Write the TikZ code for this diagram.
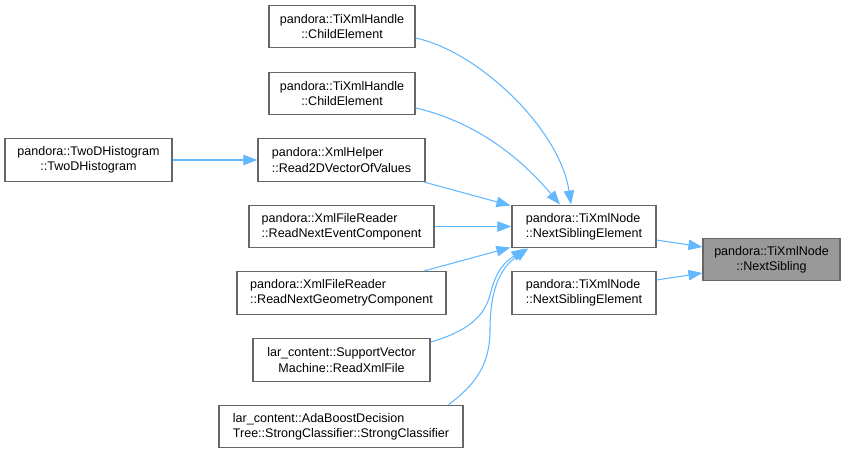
\documentclass[tikz,border=0pt]{standalone}
\usepackage{fontspec}
\setmainfont{Liberation Sans}
\usetikzlibrary{arrows.meta,calc}
\definecolor{edgeblue}{HTML}{63B8FF}
\definecolor{boxborder}{HTML}{666666}
\definecolor{hlfill}{HTML}{999999}
\begin{document}
\begin{tikzpicture}[x=0.75pt,y=-0.75pt,
  bx/.style={draw=boxborder, fill=white, line width=0.9pt, inner xsep=0pt, inner ysep=0pt,
    font=\fontsize{9.4}{11.3}\selectfont, minimum height=32pt},
  lbx/.style={bx, align=left},
  cbx/.style={bx, align=center},
  hl/.style={fill=hlfill},
  edge/.style={draw=edgeblue, line width=0.8pt, -{Triangle[length=10.5pt,width=7.8pt]}}
]
\fill[white] (0,0) rectangle (845,453);
\useasboundingbox (0,0) rectangle (845,453);

\node[cbx, minimum width=109.5pt] (CE1) at (342,26.5) {pandora::TiXmlHandle\\::ChildElement};
\node[cbx, minimum width=109.5pt] (CE2) at (342,93.5) {pandora::TiXmlHandle\\::ChildElement};
\node[cbx, minimum width=125.25pt] (TwoD) at (88.5,160) {pandora::TwoDHistogram\\::TwoDHistogram};
\node[lbx, minimum width=125.25pt] (R2D) at (341.5,160) {pandora::XmlHelper\\::Read2DVectorOfValues};
\node[lbx, minimum width=138.75pt] (RNE) at (341.5,226.5) {pandora::XmlFileReader\\::ReadNextEventComponent};
\node[lbx, minimum width=156.75pt] (RNG) at (341.5,293) {pandora::XmlFileReader\\::ReadNextGeometryComponent};
\node[cbx, minimum width=132.75pt] (SVM) at (341.5,360) {lar\_content::SupportVector\\Machine::ReadXmlFile};
\node[lbx, minimum width=183pt] (ADA) at (341,426.5) {lar\_content::AdaBoostDecision\\Tree::StrongClassifier::StrongClassifier};
\node[lbx, minimum width=108pt] (NSE1) at (584,226.5) {pandora::TiXmlNode\\::NextSiblingElement};
\node[lbx, minimum width=108pt] (NSE2) at (584,293) {pandora::TiXmlNode\\::NextSiblingElement};
\node[cbx, hl, minimum width=102.75pt] (NS) at (771.5,259.5) {pandora::TiXmlNode\\::NextSibling};

\draw[edge] (TwoD.east) -- (R2D.west);
\draw[edge] ($(CE1.east)+(0,11.5)$) .. controls (480,52) and (560,130) .. ($(NSE1.north)+(-13,0)$);
\draw[edge] ($(CE2.east)+(0,14.5)$) .. controls (490,125) and (535,175) .. ($(NSE1.north)+(-24,0)$);
\draw[edge] ($(R2D.south east)+(-2,0)$) -- ($(NSE1.north west)+(-1,1)$);
\draw[edge] (RNE.east) -- (NSE1.west);
\draw[edge] ($(RNG.north east)+(-23,0)$) -- ($(NSE1.south west)+(-1,-1)$);
\coordinate (svmmid) at (490,295);
\draw[edge] ($(SVM.north east)+(0,4)$) .. controls (465,332) and (484,318) .. (svmmid) .. controls (496,270) and (505,262) .. ($(NSE1.south west)+(14,0)$);
\coordinate (adamid) at (490,330);
\draw[edge] ($(ADA.north east)+(-15,0)$) .. controls (475,385) and (490,365) .. (adamid) .. controls (490,290) and (500,268) .. ($(NSE1.south west)+(17,0)$);
\draw[edge] ($(NSE1.east)+(0,13.5)$) -- ($(NS.west)+(0,-12.5)$);
\draw[edge] ($(NSE2.east)+(0,-13)$) -- ($(NS.west)+(0,13.5)$);
\end{tikzpicture}
\end{document}
